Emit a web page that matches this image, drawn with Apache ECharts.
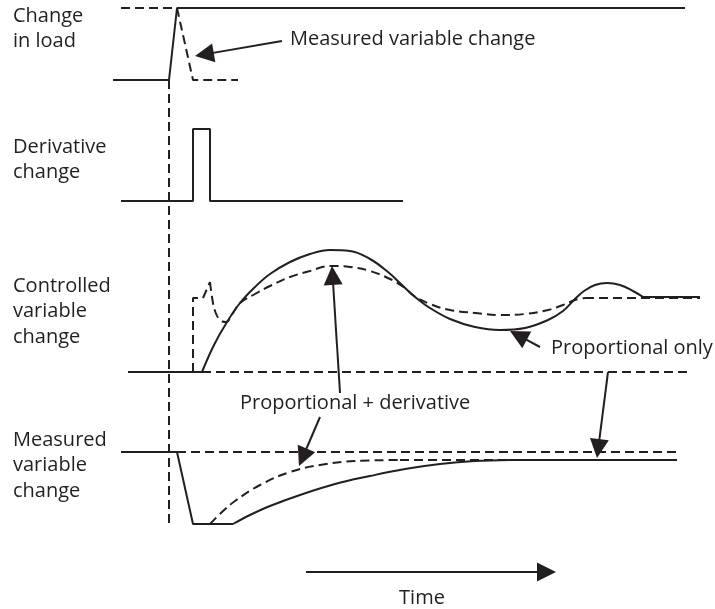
<!DOCTYPE html>
<html>
<head>
<meta charset="utf-8">
<script src="https://cdn.jsdelivr.net/npm/echarts@6/dist/echarts.min.js"></script>
<style>html,body{margin:0;padding:0;background:#fff}#c{width:715px;height:609px}</style>
</head>
<body>
<div id="c"></div>
<script>
// ---- Data (diagram space: x = time position, y = level, 0 at top) ----
// Panel 1: change in load
const loadStep = [[113,80],[169,80],[177,8],[685,8]];
const loadDashTop = [[121,8],[177,8]];
const measuredDrop = [[177,8],[193,80],[238,80]];
const disturbanceMark = [[169,80],[169,524]];
// Panel 2: derivative change
const derivativePulse = [[121,201],[193,201],[193,129],[210,129],[210,201],[403,201]];
// Panel 3: controlled variable change
const ctrlBaseSolid = [[128,372],[202,372]];
const ctrlBaseDash = [[202,372],[690,372]];
const propOnlyCurve = [[202,372],[214,345],[227,322],[240,303],[255,287],[270,274],[290,262],[310,254],[330,250],[350,251],[370,259],[388,272],[402,285],[414,296],[430,308],[450,319],[475,327],[500,330],[525,328],[548,320],[563,311],[574,300],[584,291],[595,285],[607,283],[620,285],[633,291],[643,297]];
const propOnlyTail = [[643,297],[700,297]];
const pdKick = [[193,372],[193,298],[203,298],[210,282]];
const pdCurve = [[210,282],[212,297],[215,311],[220,320],[226,322],[233,313],[240,303],[255,294],[270,286],[290,277],[310,271],[330,266],[350,267],[370,271],[390,279],[405,288],[414,296],[430,304],[450,310],[475,313],[500,315],[525,314],[548,310],[563,305],[575,300],[585,298]];
const pdTail = [[585,298],[700,298]];
// Panel 4: measured variable change
const measSetpoint = [[177,452],[677,452]];
const measPropStep = [[121,452],[177,452],[193,524],[233,524]];
const measPropCurve = [[233,524],[250,515],[270,506],[300,495],[335,484],[370,476],[405,469],[440,464],[475,461],[510,460]];
const measPropTail = [[510,460],[677,460]];
const measPDCurve = [[210,524],[222,512],[235,501],[260,485],[290,472],[320,465],[355,461],[400,460]];
const measPDTail = [[400,460],[677,460]];
// Arrows: [tail, tip]
const arrows = [
  [[282,41],[195,56]],
  [[340,393],[332,266]],
  [[320,417],[299,466]],
  [[540,347],[510,331]],
  [[608,372],[597,458]],
  [[306,572],[556,572]]
];
// Texts
const sideLabels = [
  ["Change\nin load", 13, 3.5],
  ["Derivative\nchange", 13, 134.5],
  ["Controlled\nvariable\nchange", 13, 273.5],
  ["Measured\nvariable\nchange", 13, 427.5]
];
const notes = [
  ["Measured variable change", 290, 39, "left"],
  ["Proportional only", 551, 348, "left"],
  ["Proportional + derivative", 240, 403, "left"],
  ["Time", 422, 598, "center"]
];

const INK = '#231f20';
const DASH = [9,5];
const FONT = '20px "Open Sans"';

function solid(d, smooth) {
  return {type:'line', data:d, symbol:'none', smooth:smooth?0.4:false, silent:true,
    lineStyle:{color:INK, width:2}, z:2};
}
function dashed(d, smooth) {
  return {type:'line', data:d, symbol:'none', smooth:smooth?0.4:false, silent:true,
    lineStyle:{color:INK, width:2, type:DASH}, z:2};
}

const ARROW = 19;
const arrowData = arrows.map(([a,b]) => {
  const dx = b[0]-a[0], dy = b[1]-a[1], L = Math.hypot(dx,dy);
  const end = [b[0]-dx/L*ARROW/2, b[1]-dy/L*ARROW/2];
  return {coords:[a, end]};
});

const series = [
  solid(loadStep), dashed(loadDashTop), dashed(measuredDrop), dashed(disturbanceMark),
  solid(derivativePulse),
  solid(ctrlBaseSolid), dashed(ctrlBaseDash),
  solid(propOnlyCurve, true), solid(propOnlyTail),
  dashed(pdKick), dashed(pdCurve, true), dashed(pdTail),
  dashed(measSetpoint), solid(measPropStep), solid(measPropCurve, true), solid(measPropTail),
  dashed(measPDCurve, true), dashed(measPDTail),
  {type:'lines', coordinateSystem:'cartesian2d', data:arrowData, silent:true,
   symbol:['none','triangle'], symbolSize:ARROW,
   lineStyle:{color:INK, width:2, opacity:1, curveness:0}, itemStyle:{color:INK}, z:3}
];

const graphic = [];
sideLabels.forEach(([t,x,y]) => graphic.push({type:'text', x, y, silent:true,
  style:{text:t, font:FONT, fill:INK, lineHeight:25.5, verticalAlign:'top', align:'left'}}));
notes.forEach(([t,x,y,al]) => graphic.push({type:'text', x, y, silent:true,
  style:{text:t, font:FONT, fill:INK, verticalAlign:'middle', align:al}}));

const chart = echarts.init(document.getElementById('c'), null, {renderer:'canvas'});
chart.setOption({
  animation:false,
  backgroundColor:'#fff',
  grid:{left:0,right:0,top:0,bottom:0},
  xAxis:{type:'value', min:0, max:715, show:false},
  yAxis:{type:'value', min:0, max:609, inverse:true, show:false},
  series, graphic
});
</script>
</body>
</html>
